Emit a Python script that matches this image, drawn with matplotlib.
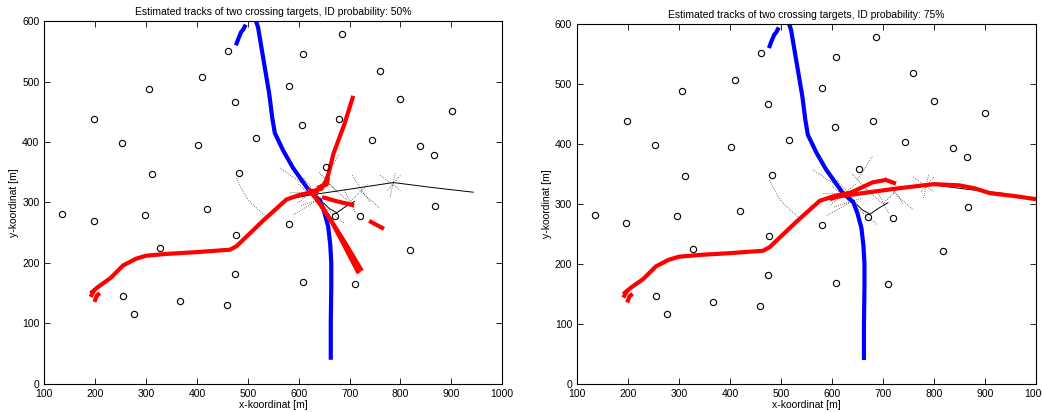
import matplotlib
matplotlib.use("Agg")
import matplotlib.pyplot as plt
import numpy as np

plt.rcParams['font.family'] = ['Liberation Sans', 'DejaVu Sans']

# Sensor positions [m]
sensor_x = [462, 686, 608, 759, 410, 581, 306, 800, 475, 901, 198, 680, 606, 516,
            744, 253, 403, 838, 865, 312, 483, 654, 135, 297, 197, 419, 868, 580,
            671, 720, 476, 327, 819, 475, 608, 710, 255, 367, 459, 277]
sensor_y = [551, 578, 545, 518, 507, 493, 488, 471, 466, 452, 438, 438, 428, 406,
            403, 399, 395, 394, 379, 347, 349, 358, 281, 280, 269, 289, 295, 265,
            278, 277, 246, 225, 222, 182, 169, 166, 146, 137, 130, 116]

# Target 1 (blue): north-south track
blue_x = [663, 663, 664, 664, 662, 658, 650, 642, 630, 620, 605, 589, 570, 553,
          548, 542, 536, 530, 524, 520, 516]
blue_y = [40, 100, 160, 200, 230, 260, 285, 303, 312, 320, 338, 357, 385, 415,
          440, 480, 510, 540, 570, 590, 600]
blue_stub_x = [478, 482, 487, 491, 494]
blue_stub_y = [563, 572, 582, 586, 591]

# Target 2 (red): common west part of the track
red_x = [194, 205, 230, 255, 280, 300, 340, 400, 465, 478, 488, 530, 576, 600, 620, 635]
red_y = [152, 160, 175, 196, 207, 212, 215, 218, 222, 228, 236, 270, 305, 312, 316, 318]
red_bits_x = [[200, 203, 206], [193, 197]]
red_bits_y = [[139, 146, 148], [147, 153]]

# Left panel (ID 50 %): diverging red branches
left_red_x = [[625, 645, 655, 660, 668, 690, 706],
              [625, 640, 660, 690, 722],
              [622, 640, 665, 690, 716],
              [650, 675, 705],
              [742, 764],
              [640, 655, 657]]
left_red_y = [[318, 323, 338, 352, 380, 430, 473],
              [318, 300, 275, 235, 190],
              [320, 300, 268, 228, 186],
              [308, 302, 296],
              [268, 258],
              [325, 330, 338]]

# Right panel (ID 75 %): red branches
right_red_x = [[600, 640, 680, 706, 722],
               [600, 660, 730, 800, 850, 880, 910, 960, 1000]]
right_red_y = [[309, 320, 336, 340, 335],
               [311, 318, 326, 333, 331, 326, 318, 313, 308]]

# Thin black track estimates
black_x = [583, 620, 700, 786, 860, 943]
black_y = [306, 312, 322, 333, 325, 317]
black_tri_x = [649, 660, 675, 690, 710]
black_tri_y = [299, 290, 283, 292, 302]

# Dotted association lines near the crossing
dot_segs = [
    ([563, 615], [357, 327]), ([583, 640], [318, 318]), ([598, 648], [299, 334]),
    ([610, 650], [340, 300]), ([640, 675], [350, 318]), ([660, 700], [330, 300]),
    ([690, 712], [320, 283]), ([705, 740], [345, 300]), ([720, 760], [320, 290]),
    ([590, 640], [280, 305]), ([640, 690], [300, 265]), ([605, 660], [295, 310]),
    ([700, 735], [300, 330]), ([760, 800], [345, 320]), ([775, 800], [320, 345]),
    ([780, 790], [310, 350]), ([650, 680], [340, 380]), ([600, 640], [330, 300]),
    ([478, 486, 496, 508, 522, 540], [340, 325, 310, 298, 287, 274]),
]


def draw_panel(ax, red_branches_x, red_branches_y, title):
    for sx, sy in dot_segs:
        ax.plot(sx, sy, color='black', lw=0.5, ls=(0, (1, 2)))
    ax.plot(black_x, black_y, color='black', lw=0.7)
    ax.plot(black_tri_x, black_tri_y, color='black', lw=0.7)

    ax.plot(blue_x, blue_y, color='#0000ff', lw=3, solid_capstyle='butt')
    ax.plot(blue_stub_x, blue_stub_y, color='#0000ff', lw=3)
    ax.plot(red_x, red_y, color='#ff0000', lw=3)
    for bx, by in zip(red_bits_x, red_bits_y):
        ax.plot(bx, by, color='#ff0000', lw=3)
    for bx, by in zip(red_branches_x, red_branches_y):
        ax.plot(bx, by, color='#ff0000', lw=3)

    ax.plot(sensor_x, sensor_y, 'o', mfc='none', mec='black', ms=4.5, mew=0.8)

    ax.set_xlim(100, 1000)
    ax.set_ylim(0, 600)
    ax.set_xticks(np.arange(100, 1001, 100))
    ax.set_yticks(np.arange(0, 601, 100))
    ax.tick_params(direction='in', top=True, right=True, labelsize=7.5, length=4, width=0.6)
    for s in ax.spines.values():
        s.set_linewidth(0.8)
    ax.set_xlabel('x-koordinat [m]', fontsize=7.5, labelpad=1)
    ax.set_ylabel('y-koordinat [m]', fontsize=7.5, labelpad=2)
    ax.set_title(title, fontsize=7.5, pad=4)


fig = plt.figure(figsize=(10.42, 4.12), dpi=100)
ax1 = fig.add_axes([0.0425, 0.068, 0.4395, 0.881])
ax2 = fig.add_axes([0.5537, 0.068, 0.4403, 0.874])

draw_panel(ax1, left_red_x, left_red_y,
           'Estimated tracks of two crossing targets, ID probability: 50%')
draw_panel(ax2, right_red_x, right_red_y,
           'Estimated tracks of two crossing targets, ID probability: 75%')

fig.savefig('out.png', dpi=100)
